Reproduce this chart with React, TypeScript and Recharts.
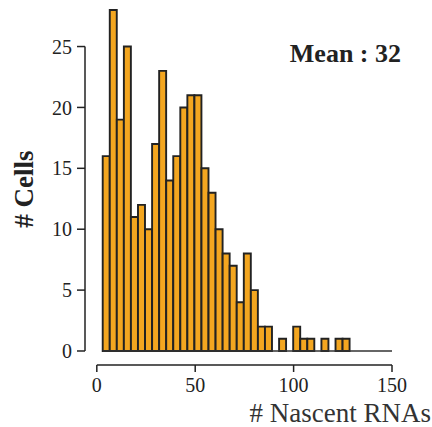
import React from 'react';
import { ComposedChart, Bar, XAxis, YAxis, ReferenceLine } from 'recharts';

// histogram bins: first edge and width, in # nascent RNAs
const BIN_START = 3;
const BIN_WIDTH = 3.585;
const counts = [
  16, 28, 19, 25, 11, 12, 10, 17, 23, 14, 16, 20, 21, 21, 15, 13, 10, 8, 7, 4,
  8, 5, 2, 2, 0, 1, 0, 2, 1, 1, 0, 1, 0, 1, 1, 0, 0, 0, 0, 0, 0,
];
const xTicks = [0, 50, 100, 150];
const yTicks = [0, 5, 10, 15, 20, 25];
const meanText = 'Mean : 32';
const xTitle = '# Nascent RNAs';
const yTitle = '# Cells';

const data = counts.map((n, i) => ({ mid: BIN_START + BIN_WIDTH * (i + 0.5), n }));

const SERIF = "'Liberation Serif', 'Times New Roman', serif";
const INK = '#222';
const ORANGE = '#F3A620';

// R-style detached axes sit a little outside the data range
const X_MIN = -6;
const Y_MIN = -1.15;

const tickStyle = { fontFamily: SERIF, fontSize: 20, fill: INK };

export default function App() {
  return (
    <div style={{ position: 'absolute', left: 0, top: 0, width: 432, height: 427 }}>
      <ComposedChart
        width={432}
        height={427}
        data={data}
        margin={{ top: 10, right: 40, bottom: 22, left: 25 }}
        barCategoryGap={0}
        barGap={0}
      >
        <XAxis
          type="number"
          dataKey="mid"
          domain={[X_MIN, 150]}
          ticks={xTicks}
          axisLine={false}
          tickSize={7}
          tickMargin={6}
          tickLine={{ stroke: INK, strokeWidth: 1.5 }}
          tick={tickStyle}
          height={40}
        />
        <YAxis
          type="number"
          domain={[Y_MIN, 28]}
          ticks={yTicks}
          axisLine={false}
          tickSize={8}
          tickMargin={5}
          tickLine={{ stroke: INK, strokeWidth: 1.5 }}
          tick={tickStyle}
          width={60}
        />
        <ReferenceLine
          segment={[{ x: BIN_START, y: 0 }, { x: 150, y: 0 }]}
          stroke="#333"
          strokeWidth={1.5}
        />
        <Bar
          dataKey="n"
          fill={ORANGE}
          stroke={INK}
          strokeWidth={1.9}
          isAnimationActive={false}
        />
        <ReferenceLine
          segment={[{ x: X_MIN, y: 0 }, { x: X_MIN, y: 25 }]}
          stroke={INK}
          strokeWidth={1.5}
        />
        <ReferenceLine
          segment={[{ x: 0, y: Y_MIN }, { x: 150, y: Y_MIN }]}
          stroke={INK}
          strokeWidth={1.5}
        />
        <text x={401} y={62} textAnchor="end" fontFamily={SERIF} fontWeight="bold" fontSize={26} fill={INK}>
          {meanText}
        </text>
        <text
          transform="translate(33,189) rotate(-90)"
          textAnchor="middle"
          fontFamily={SERIF}
          fontWeight="bold"
          fontSize={27}
          fill={INK}
        >
          {yTitle}
        </text>
        <text x={431} y={422} textAnchor="end" fontFamily={SERIF} fontSize={27} fill="#333">
          {xTitle}
        </text>
      </ComposedChart>
    </div>
  );
}
